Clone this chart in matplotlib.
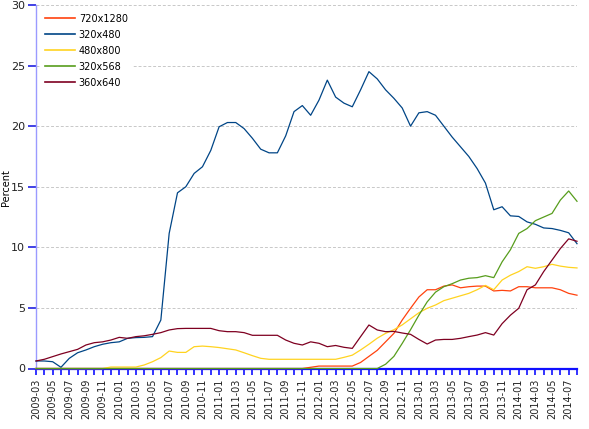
"""
Screen resolution share by month (2009-03 .. 2014-08).
"""

import matplotlib
matplotlib.use('Agg')
import matplotlib.pyplot as plt
import pandas as pd

# Categories: one entry per month
MONTHS = [p.strftime('%Y-%m') for p in pd.period_range('2009-03', '2014-08', freq='M')]
TICK_LABELS = MONTHS[::2]

# Series values (percent)
RES_720x1280 = [
    0, 0, 0, 0, 0, 0, 0, 0, 0, 0,
    0, 0, 0, 0, 0, 0, 0, 0, 0, 0,
    0, 0, 0, 0, 0, 0, 0, 0, 0, 0,
    0, 0, 0, 0.1, 0.2, 0.2, 0.2, 0.2, 0.2, 0.5,
    1.0, 1.5, 2.2, 2.9, 4.0, 4.97, 5.9, 6.5, 6.5, 6.8,
    6.9, 6.66, 6.75, 6.8, 6.8, 6.4, 6.45, 6.4, 6.75, 6.75,
    6.66, 6.66, 6.66, 6.5, 6.2, 6.05,
]
RES_320x480 = [
    0.62, 0.62, 0.56, 0.1, 0.84, 1.3, 1.53, 1.8, 2.0, 2.13,
    2.2, 2.49, 2.55, 2.57, 2.63, 4.0, 11.15, 14.5, 15.0, 16.1,
    16.65, 18.0, 19.95, 20.3, 20.3, 19.8, 19.0, 18.1, 17.8, 17.8,
    19.2, 21.2, 21.7, 20.9, 22.15, 23.8, 22.4, 21.9, 21.6, 23.0,
    24.5, 23.9, 23.0, 22.3, 21.5, 20.0, 21.1, 21.2, 20.9, 20.0,
    19.1, 18.3, 17.5, 16.5, 15.3, 13.1, 13.35, 12.6, 12.55, 12.1,
    11.9, 11.6, 11.55, 11.4, 11.2, 10.3,
]
RES_480x800 = [
    0, 0, 0, 0, 0, 0, 0, 0, 0, 0.12,
    0.12, 0.12, 0.12, 0.29, 0.56, 0.9, 1.44, 1.33, 1.33, 1.8,
    1.85, 1.8, 1.73, 1.63, 1.53, 1.3, 1.06, 0.84, 0.76, 0.76,
    0.76, 0.76, 0.76, 0.76, 0.76, 0.76, 0.76, 0.92, 1.1, 1.53,
    2.0, 2.5, 2.9, 3.2, 3.6, 4.1, 4.6, 4.97, 5.24, 5.6,
    5.8, 6.0, 6.2, 6.5, 6.86, 6.5, 7.3, 7.7, 8.0, 8.4,
    8.27, 8.4, 8.6, 8.45, 8.35, 8.3,
]
RES_320x568 = [
    0, 0, 0, 0, 0, 0, 0, 0, 0, 0,
    0, 0, 0, 0, 0, 0, 0, 0, 0, 0,
    0, 0, 0, 0, 0, 0, 0, 0, 0, 0,
    0, 0, 0, 0, 0, 0, 0, 0, 0, 0,
    0, 0, 0.35, 1.0, 2.07, 3.2, 4.4, 5.5, 6.3, 6.75,
    7.0, 7.3, 7.45, 7.5, 7.66, 7.5, 8.8, 9.8, 11.15, 11.55,
    12.2, 12.5, 12.8, 13.9, 14.65, 13.8,
]
RES_360x640 = [
    0.62, 0.76, 0.98, 1.2, 1.39, 1.58, 1.94, 2.13, 2.2, 2.35,
    2.57, 2.49, 2.63, 2.7, 2.82, 2.96, 3.18, 3.29, 3.31, 3.31,
    3.31, 3.31, 3.12, 3.04, 3.04, 2.96, 2.74, 2.74, 2.74, 2.74,
    2.35, 2.08, 1.94, 2.2, 2.08, 1.8, 1.9, 1.75, 1.66, 2.63,
    3.59, 3.18, 3.04, 3.06, 2.93, 2.82, 2.4, 2.02, 2.35, 2.4,
    2.4, 2.49, 2.63, 2.76, 2.96, 2.76, 3.7, 4.4, 4.97, 6.5,
    6.9, 8.0, 8.95, 9.9, 10.7, 10.5,
]

SERIES = [
    ('720x1280', RES_720x1280, '#ff420e'),
    ('320x480', RES_320x480, '#004586'),
    ('480x800', RES_480x800, '#ffd320'),
    ('320x568', RES_320x568, '#579d1c'),
    ('360x640', RES_360x640, '#7e0021'),
]

fig = plt.figure(figsize=(5.89, 4.29), dpi=100)
ax = fig.add_axes([36 / 589, 60.5 / 429, 541 / 589, 363.5 / 429])

x = list(range(len(MONTHS)))
for label, values, color in SERIES:
    ax.plot(x, values, color=color, linewidth=0.9, label=label, clip_on=False, zorder=3)

ax.set_xlim(0, len(MONTHS) - 1)
ax.set_ylim(0, 30)

# Axes styling (LibreOffice-like)
for side in ('top', 'right'):
    ax.spines[side].set_visible(False)
ax.spines['left'].set_color('#9a9aff')
ax.spines['left'].set_linewidth(1.0)
ax.spines['bottom'].set_color('#1010ff')
ax.spines['bottom'].set_linewidth(1.6)

ax.set_yticks(range(0, 31, 5))
ax.tick_params(axis='y', direction='out', length=6, width=1.2, color='#2020e0',
               labelsize=8, pad=2, labelcolor='#222222')

ax.set_xticks(x[::2])
ax.set_xticklabels(TICK_LABELS, rotation=90, fontsize=7, color='#222222')
ax.set_xticks(x, minor=True)
ax.tick_params(axis='x', which='both', direction='out', length=4, width=1.2,
               color='#1010ff', pad=3)

ax.set_axisbelow(True)
ax.yaxis.grid(True, linestyle=(0, (3, 2)), color='#c8c8c8', linewidth=0.7)

# Axis title sits hard against the left edge, as in the source image
fig.text(6 / 589, 0.562, 'Percent', rotation=90, fontsize=7, ha='center', va='center')

leg = ax.legend(loc='upper left', bbox_to_anchor=(0.0, 1.0), fontsize=7,
                handlelength=3.1, handletextpad=0.4, labelspacing=0.62,
                borderpad=0.4, borderaxespad=0.5, frameon=True, fancybox=False)
leg.get_frame().set_edgecolor('white')
leg.get_frame().set_facecolor('white')
leg.get_frame().set_alpha(1)
for h in leg.get_lines():
    h.set_linewidth(1.2)

fig.savefig('out.png', dpi=100)
